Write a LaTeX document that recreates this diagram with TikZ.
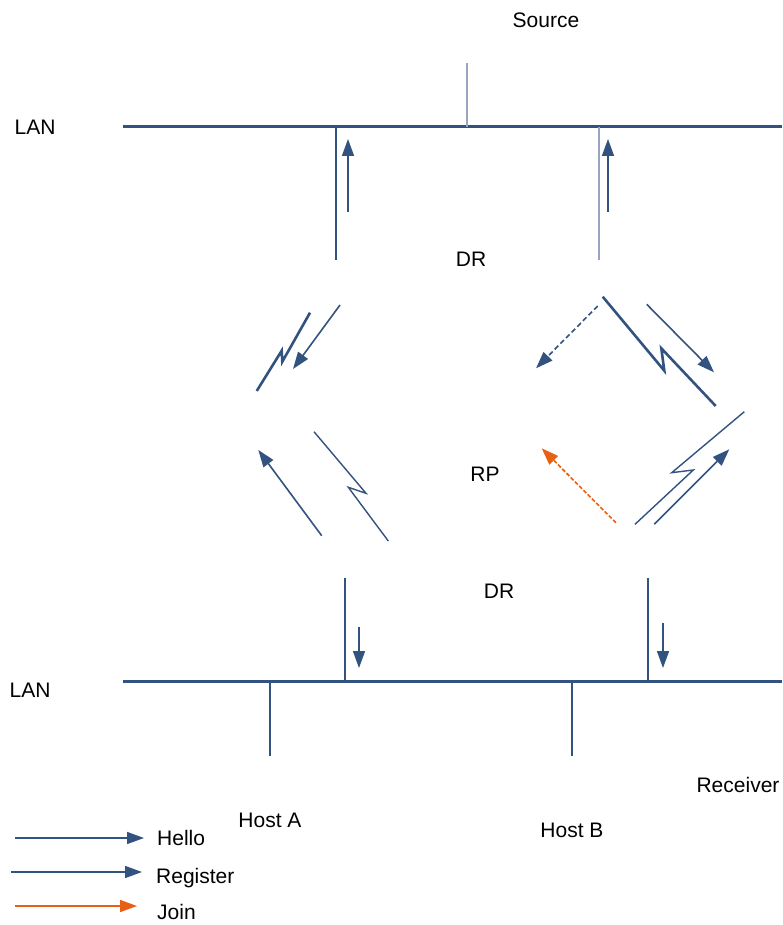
\documentclass[tikz,border=0pt]{standalone}
\usepackage{fontspec}
\setmainfont{Liberation Sans}
\usetikzlibrary{arrows.meta}
\definecolor{navy}{RGB}{50,82,128}
\definecolor{paleblue}{RGB}{150,166,192}
\definecolor{joinor}{RGB}{232,96,20}
\tikzset{
  lbl/.style={font=\fontsize{21}{25}\selectfont, inner sep=0pt},
  lan/.style={draw=navy, line width=3pt},
  thin/.style={draw=navy, line width=1.4pt},
  pale/.style={draw=paleblue, line width=1.6pt},
  bolt/.style={draw=navy, line width=2.6pt, line join=miter},
  tbolt/.style={draw=navy, line width=1.4pt, line join=miter},
  msg/.style={draw=navy, line width=1.6pt, -{Triangle[length=17pt,width=12pt]}},
  regmsg/.style={msg, dash pattern=on 5pt off 3pt},
  joinmsg/.style={draw=joinor, line width=1.6pt, dash pattern=on 4pt off 2pt, -{Triangle[length=17pt,width=12pt]}},
}
\begin{document}
\begin{tikzpicture}[x=1pt,y=-1pt]
\useasboundingbox (0,0) rectangle (782,925);
% labels
\node[lbl] (src) at (546,20) {Source};
\node[lbl] (lan1) at (35,127) {LAN};
\node[lbl] (lan2) at (30,690) {LAN};
\node[lbl] (dr1) at (471,259) {DR};
\node[lbl] (rp) at (485,474) {RP};
\node[lbl] (dr2) at (499,591) {DR};
\node[lbl] (ha) at (270,820) {Host A};
\node[lbl] (hb) at (572,830) {Host B};
\node[lbl] (rcv) at (738,785) {Receiver};
% top LAN
\coordinate (t0) at (123,127); \coordinate (t1) at (782,127);
\draw[lan] (t0) -- (t1);
\coordinate (s0) at (467,63); \coordinate (s1) at (467,127);
\draw[pale] (s0) -- (s1);
\coordinate (va0) at (336,127); \coordinate (va1) at (336,260);
\draw[thin] (va0) -- (va1);
\coordinate (vb0) at (599,127); \coordinate (vb1) at (599,260);
\draw[pale] (vb0) -- (vb1);
\coordinate (ua0) at (348,212); \coordinate (ua1) at (348,139);
\draw[msg] (ua0) -- (ua1);
\coordinate (ub0) at (608,212); \coordinate (ub1) at (608,139);
\draw[msg] (ub0) -- (ub1);
% upper left
\draw[bolt] (256.7,391) -- (281.7,350.7) -- (282.3,361.7) -- (310,312.7);
\coordinate (ul0) at (340,305); \coordinate (ul1) at (293,369);
\draw[msg] (ul0) -- (ul1);
% lower left
\coordinate (ll0) at (321.7,535.7); \coordinate (ll1) at (258.3,450);
\draw[msg] (ll0) -- (ll1);
\draw[tbolt] (314,431.7) -- (366,493.3) -- (348.3,487.3) -- (388.3,541);
% upper right
\coordinate (ur0) at (597.7,306); \coordinate (ur1) at (536,368.3);
\draw[regmsg] (ur0) -- (ur1);
\draw[bolt] (602.7,296.7) -- (664.3,370.7) -- (661.3,348.3) -- (715.7,406);
\coordinate (ur2) at (646.7,304.3); \coordinate (ur3) at (714,372.3);
\draw[msg] (ur2) -- (ur3);
% lower right
\draw[tbolt] (744.3,411.7) -- (671.7,472.7) -- (693.3,470) -- (635,524.3);
\coordinate (lr0) at (654.3,524.3); \coordinate (lr1) at (729.3,449.3);
\draw[msg] (lr0) -- (lr1);
\coordinate (j0) at (616,522.7); \coordinate (j1) at (541.7,448.3);
\draw[joinmsg] (j0) -- (j1);
% bottom LAN
\coordinate (b0) at (123,681); \coordinate (b1) at (782,681);
\draw[lan] (b0) -- (b1);
\coordinate (wa0) at (345,578); \coordinate (wa1) at (345,681);
\draw[thin] (wa0) -- (wa1);
\coordinate (wb0) at (648,578); \coordinate (wb1) at (648,681);
\draw[thin] (wb0) -- (wb1);
\coordinate (da0) at (359,627); \coordinate (da1) at (359,668);
\draw[msg] (da0) -- (da1);
\coordinate (db0) at (663,623); \coordinate (db1) at (663,668);
\draw[msg] (db0) -- (db1);
\coordinate (ha0) at (270,681); \coordinate (ha1) at (270,756);
\draw[thin] (ha0) -- (ha1);
\coordinate (hb0) at (572,681); \coordinate (hb1) at (572,756);
\draw[thin] (hb0) -- (hb1);
% legend
\coordinate (lg1a) at (15,838); \coordinate (lg1b) at (144,838);
\draw[msg] (lg1a) -- (lg1b);
\node[lbl, anchor=west] (lhello) at (157,838) {Hello};
\coordinate (lg2a) at (11,872); \coordinate (lg2b) at (142,872);
\draw[msg] (lg2a) -- (lg2b);
\node[lbl, anchor=west] (lreg) at (156,878) {Register};
\coordinate (lg3a) at (15,906); \coordinate (lg3b) at (137,906);
\draw[draw=joinor, line width=1.6pt, -{Triangle[length=17pt,width=12pt]}] (lg3a) -- (lg3b);
\node[lbl, anchor=west] (ljoin) at (157,912) {Join};
\end{tikzpicture}
\end{document}
